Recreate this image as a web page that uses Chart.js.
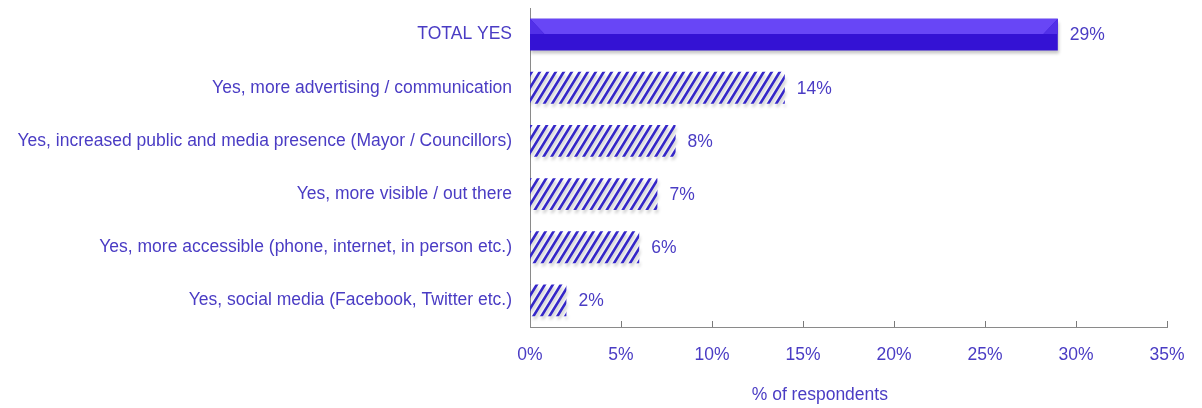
<!DOCTYPE html>
<html>
<head>
<meta charset="utf-8">
<script src="https://cdn.jsdelivr.net/npm/chart.js@4/dist/chart.umd.min.js"></script>
<style>
  html, body { margin: 0; padding: 0; background: #fff; }
  #wrap { width: 1202px; height: 408px; }
</style>
</head>
<body>
<div id="wrap"><canvas id="chart-1"></canvas></div>
<script>
const categories = [
    'TOTAL YES',
    'Yes, more advertising / communication',
    'Yes, increased public and media presence (Mayor / Councillors)',
    'Yes, more visible / out there',
    'Yes, more accessible (phone, internet, in person etc.)',
    'Yes, social media (Facebook, Twitter etc.)'
];
const values = [29, 14, 8, 7, 6, 2];
const xTicks = [0, 5, 10, 15, 20, 25, 30, 35];
const axisTitle = '% of respondents';

const textColor = '#4a3cc4';
const fontFamily = '"Liberation Sans", Arial, sans-serif';
const fontSize = 17.5;

// steep diagonal hatch for the breakdown bars
function hatch() {
    const w = 8, h = 13;
    const c = document.createElement('canvas');
    c.width = w; c.height = h;
    const g = c.getContext('2d');
    g.strokeStyle = '#3527c8';
    g.lineWidth = 2.6;
    g.beginPath();
    [-w, 0, w].forEach(o => {
        g.moveTo(o - 1, h + 1.6);
        g.lineTo(o + w + 1, -1.6);
    });
    g.stroke();
    return g.createPattern(c, 'repeat');
}
const hatchFill = hatch();

const fills = values.map((v, i) => i === 0 ? '#3412d4' : hatchFill);

// soft shadow under the bars
const barShadow = {
    id: 'barShadow',
    beforeDatasetsDraw(chart) {
        const ctx = chart.ctx;
        ctx.save();
        ctx.shadowColor = 'rgba(0,0,0,0.22)';
        ctx.shadowOffsetX = 1;
        ctx.shadowOffsetY = 3;
        ctx.shadowBlur = 3;
    },
    afterDatasetsDraw(chart) {
        chart.ctx.restore();
    }
};

// bevelled highlight on the total bar, value labels, inner x ticks, axis title
const extras = {
    id: 'extras',
    afterDatasetsDraw(chart) {
        const ctx = chart.ctx;
        const meta = chart.getDatasetMeta(0);
        const b = meta.data[0];
        const top = b.y - b.height / 2;
        const h = b.height;
        const x0 = b.base, x1 = b.x;
        ctx.save();
        ctx.fillStyle = '#6846f6';
        ctx.beginPath();
        ctx.moveTo(x0, top);
        ctx.lineTo(x1, top);
        ctx.lineTo(x1 - h * 0.45, top + h * 0.48);
        ctx.lineTo(x0 + h * 0.45, top + h * 0.48);
        ctx.closePath();
        ctx.fill();
        ctx.fillStyle = '#5230e8';
        ctx.beginPath();
        ctx.moveTo(x0, top);
        ctx.lineTo(x0 + h * 0.45, top + h * 0.48);
        ctx.lineTo(x0, top + h * 0.48);
        ctx.closePath();
        ctx.fill();
        ctx.beginPath();
        ctx.moveTo(x1, top);
        ctx.lineTo(x1 - h * 0.45, top + h * 0.48);
        ctx.lineTo(x1, top + h * 0.48);
        ctx.closePath();
        ctx.fill();

        ctx.fillStyle = textColor;
        ctx.font = fontSize + 'px ' + fontFamily;
        ctx.textAlign = 'left';
        ctx.textBaseline = 'middle';
        meta.data.forEach((el, i) => {
            ctx.fillText(values[i] + '%', el.x + 12, el.y + 1);
        });

        const area = chart.chartArea;
        ctx.textAlign = 'center';
        ctx.fillText(axisTitle, area.left + (area.right - area.left) * 0.455, chart.height - 13);

        const xs = chart.scales.x;
        const yb = area.bottom;
        ctx.strokeStyle = '#7a7a7a';
        ctx.lineWidth = 1;
        ctx.beginPath();
        xTicks.forEach(t => {
            if (t === 0) return;
            const px = Math.round(xs.getPixelForValue(t)) + 0.5;
            ctx.moveTo(px, yb);
            ctx.lineTo(px, yb - 6);
        });
        ctx.stroke();
        ctx.restore();
    }
};

const ctx = document.getElementById('chart-1').getContext('2d');
const chart_1 = new Chart(ctx, {
    type: 'bar',
    data: {
        labels: categories,
        datasets: [{
            data: values,
            backgroundColor: fills,
            borderWidth: 0,
            categoryPercentage: 1,
            barPercentage: 0.6
        }]
    },
    plugins: [barShadow, extras],
    options: {
        indexAxis: 'y',
        responsive: true,
        maintainAspectRatio: false,
        animation: false,
        layout: { padding: { top: 8, right: 35, bottom: 0, left: 0 } },
        plugins: {
            legend: { display: false },
            tooltip: { enabled: false }
        },
        scales: {
            x: {
                min: 0,
                max: 35,
                afterBuildTicks(scale) {
                    scale.ticks = xTicks.map(v => ({ value: v }));
                },
                afterFit(scale) {
                    scale.height = 81;
                    scale.paddingLeft = 0;
                    scale.paddingRight = 0;
                },
                grid: { display: false, drawTicks: false },
                border: { display: true, color: '#8a8a8a', width: 1 },
                ticks: {
                    padding: 18,
                    color: textColor,
                    font: { family: fontFamily, size: fontSize },
                    callback: v => v + '%'
                }
            },
            y: {
                afterFit(scale) {
                    scale.width = 530;
                    scale.paddingTop = 0;
                    scale.paddingBottom = 0;
                },
                grid: { display: false, drawTicks: false },
                border: { display: true, color: '#8a8a8a', width: 1 },
                ticks: {
                    padding: 18,
                    color: textColor,
                    font: { family: fontFamily, size: fontSize }
                }
            }
        }
    }
});
</script>
</body>
</html>
